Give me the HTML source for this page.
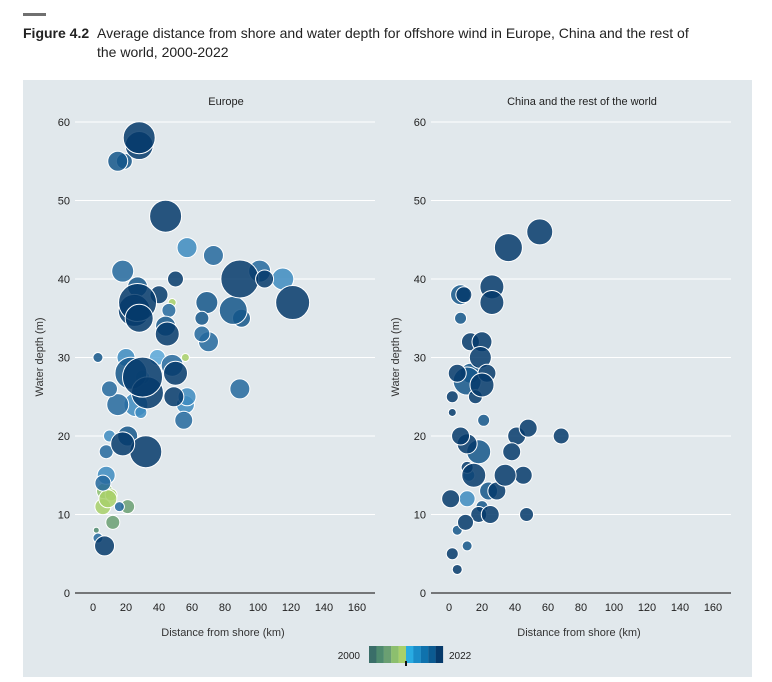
<!DOCTYPE html>
<html><head><meta charset="utf-8">
<style>
body{margin:0;background:#fff;width:772px;height:677px;overflow:hidden;font-family:"Liberation Sans",sans-serif;}
</style></head>
<body>
<svg width="772" height="677" xmlns="http://www.w3.org/2000/svg" font-family="Liberation Sans, sans-serif">
<rect x="23" y="13" width="23" height="3" fill="#707070"/>
<text x="23" y="38" font-size="14" fill="#222"><tspan font-weight="bold">Figure 4.2</tspan><tspan x="97">Average distance from shore and water depth for offshore wind in Europe, China and the rest of</tspan><tspan x="97" y="57">the world, 2000-2022</tspan></text>
<rect x="23" y="80" width="729" height="597" fill="#e1e8ec"/>
<g id="left"></g>
<g id="right"></g>
<g id="legend"></g>
</svg>
<script>
const xTicks=[0,20,40,60,80,100,120,140,160];
const yTicks=[0,10,20,30,40,50,60];
const legendYears=[2000,2022];
const europeX=[28,28,15,19,44,57,73,18,27,89,101,115,121,104,50,40,69,85,90,27,25,28,44,45,46,48,66,66,70,3,20,39,48,56,23,30,33,10,50,57,56,89,49,15,26,29,55,10,21,18,32,8,8,6,7,11,9,6,21,16,12,3,7,2,30];
const europeY=[58,57,55,55,48,44,43,41,39,40,41,40,37,40,40,38,37,36,35,37,36,35,34,33,36,37,35,33,32,30,30,30,29,30,28,27.5,25.5,26,28,25,24,26,25,24,24,23,22,20,20,19,18,18,15,14,13,12.5,12,11,11,11,9,7,6,8,27.5];
const europeSize=[256,196,100,64,256,100,100,121,100,361,121,121,289,81,64,81,121,196,81,361,256,196,100,144,49,16,49,64,100,25,81,64,121,16,256,400,256,64,144,81,81,100,100,121,144,36,81,36,100,144,256,49,81,64,64,36,81,64,49,25,49,25,100,9,49];
const europeYear=[2022,2021,2019,2018,2021,2014,2017,2017,2018,2022,2016,2015,2021,2022,2021,2021,2019,2019,2018,2021,2020,2022,2018,2021,2016,2011,2019,2017,2016,2019,2014,2013,2017,2011,2018,2022,2020,2017,2021,2015,2014,2017,2022,2016,2015,2015,2016,2014,2019,2022,2021,2016,2014,2016,2008,2010,2011,2009,2005,2017,2005,2016,2022,2003,2013];
const worldX=[55,36,26,26,7,9,7,13,20,19,5,13,23,11,20,16,2,2,21,7,11,18,38,41,48,68,11,15,12,34,45,29,24,1,11,20,25,18,10,47,5,11,2,5];
const worldY=[46,44,39,37,38,38,35,32,32,30,28,28,28,27,26.5,25,25,23,22,20,19,18,18,20,21,20,16,15,15,15,15,13,13,12,12,11,10,10,9,10,8,6,5,3];
const worldSize=[169,196,144,144,100,64,36,81,100,121,81,100,81,196,144,49,36,16,36,81,100,144,81,81,81,64,36,144,36,121,81,81,81,81,64,36,81,64,64,49,25,25,36,25];
const worldYear=[2020,2022,2021,2021,2019,2020,2018,2021,2021,2021,2022,2019,2021,2019,2021,2020,2020,2021,2019,2022,2020,2019,2021,2020,2020,2021,2021,2022,2014,2022,2021,2020,2018,2021,2014,2019,2021,2020,2021,2021,2019,2019,2020,2021];
const palette=["#3a6e69","#4e8a6e","#6a9f72","#8cbf6e","#a8d06a","#29abe2","#1a8cc8","#0f72ad","#0b5b92","#063a6b"];
const bubblePalette=["#3a6e69","#4e8a6e","#6a9f72","#8cbf6e","#a8d06a","#5aa7d8","#3d8bc0","#24699e","#14568a","#053a6b"];
function colorOf(y){let i=Math.floor((y-2000)/22*9.99);return bubblePalette[Math.max(0,Math.min(9,i))];}
const NS="http://www.w3.org/2000/svg";
function mk(tag,attrs,parent){const e=document.createElementNS(NS,tag);for(const k in attrs)e.setAttribute(k,attrs[k]);parent.appendChild(e);return e;}
function panel(gid,x0,title,xs,ys,ss,yrs){
 const g=document.getElementById(gid);
 const xS=v=>x0+v*1.65, yS=v=>593-v*7.85;
 const t=mk('text',{x:x0+133,y:105,'font-size':11,'text-anchor':'middle',fill:'#222'},g);t.textContent=title;
 
 
 yTicks.forEach(v=>{
  const l=mk('line',{x1:x0-18,x2:x0+282,y1:yS(v),y2:yS(v),stroke:v===0?'#333':'#fff','stroke-width':v===0?1.2:1},g);
  
  
  const tx=mk('text',{x:x0-23,y:yS(v)+4,'font-size':11,'text-anchor':'end',fill:'#222'},g);tx.textContent=v;
  
  
 });
 xTicks.forEach(v=>{
  const tx=mk('text',{x:xS(v),y:611,'font-size':11,'text-anchor':'middle',fill:'#222'},g);tx.textContent=v;
  
  
 });
 const xt=mk('text',{x:x0+130,y:636,'font-size':11,'text-anchor':'middle',fill:'#333'},g);xt.textContent='Distance from shore (km)';
 
 
 const yt=mk('text',{x:0,y:0,'font-size':11,'text-anchor':'middle',fill:'#333',transform:`translate(${x0-50},357) rotate(-90)`},g);yt.textContent='Water depth (m)';
 
 
 const idx=xs.map((_,i)=>i).sort((a,b)=>yrs[a]-yrs[b]);
 idx.forEach(i=>{
  const c=mk('circle',{cx:xS(xs[i]),cy:yS(ys[i]),r:Math.sqrt(ss[i]),fill:colorOf(yrs[i]),'fill-opacity':0.85,stroke:'#fff','stroke-width':1},g);
  
  
 });
}
panel('left',93,'Europe',europeX,europeY,europeSize,europeYear);
panel('right',449,'China and the rest of the world',worldX,worldY,worldSize,worldYear);
const lg=document.getElementById('legend');
palette.forEach((c,i)=>{
 const r=mk('rect',{x:369+i*7.4,y:646,width:7.5,height:17,fill:c},lg);
 
 
});
mk('rect',{x:405,y:661,width:2,height:5,fill:'#111'},lg);
const l1=mk('text',{x:360,y:659,'font-size':10,'text-anchor':'end',fill:'#222'},lg);l1.textContent=legendYears[0];


const l2=mk('text',{x:449,y:659,'font-size':10,fill:'#222'},lg);l2.textContent=legendYears[1];


</script>
</body></html>
